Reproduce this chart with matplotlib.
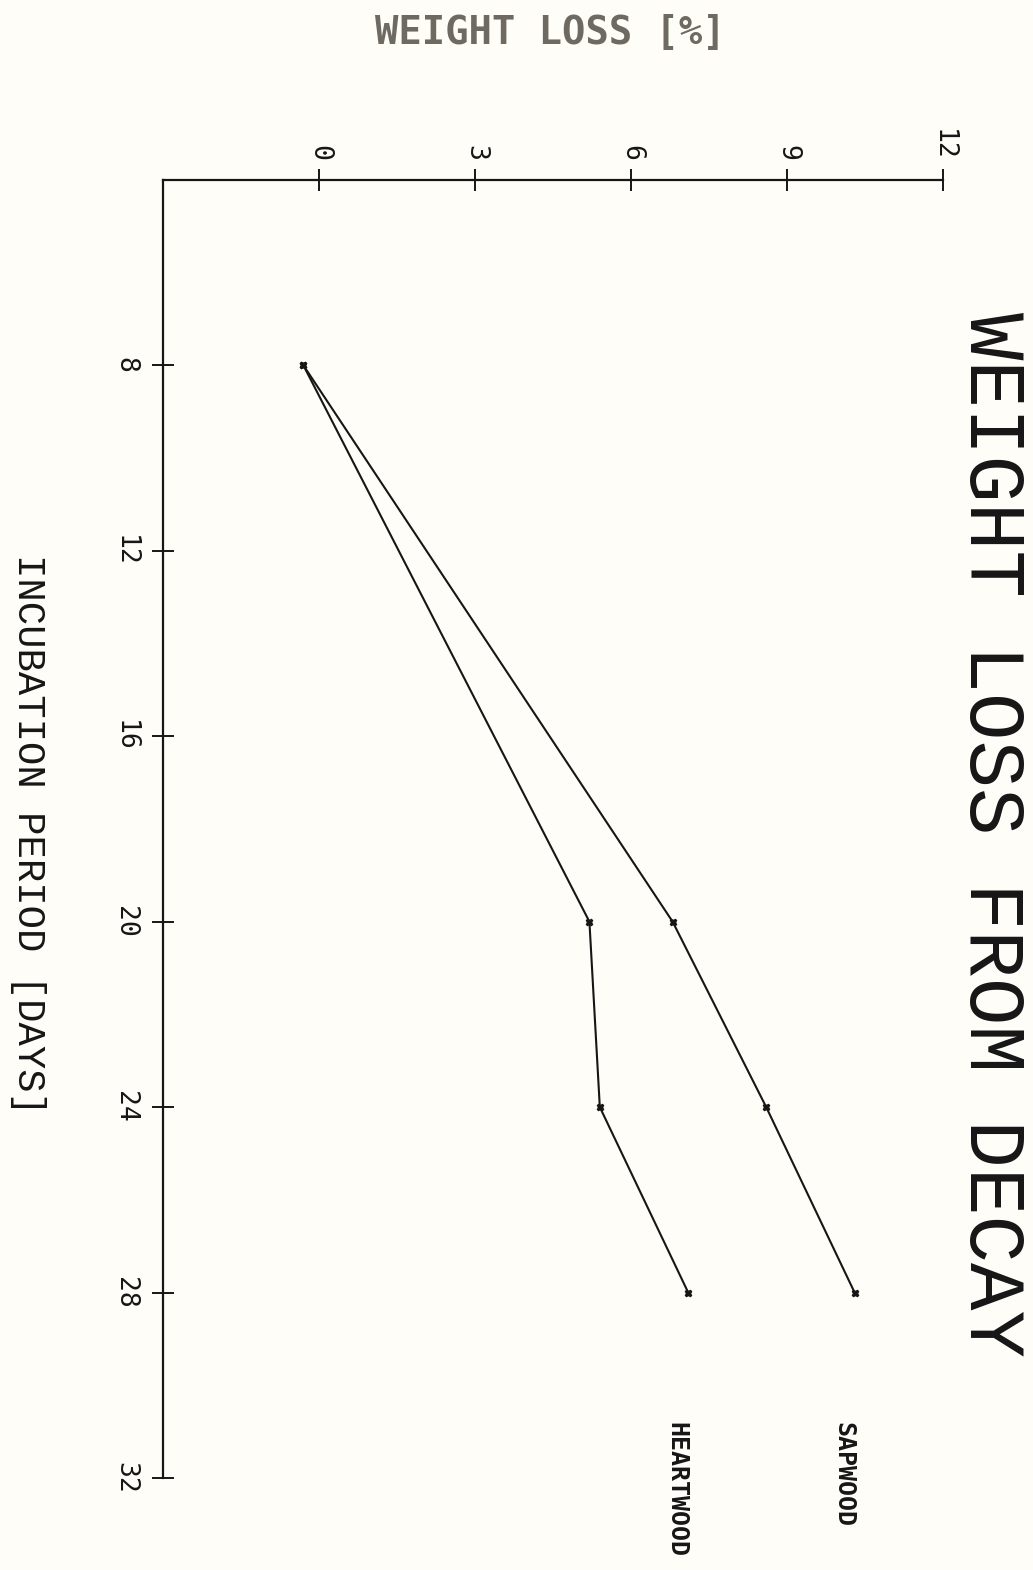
import numpy as np
import matplotlib
matplotlib.use("Agg")
import matplotlib.pyplot as plt

# incubation period [days] and weight loss [%]
days = [8, 20, 24, 28]
sapwood = [-0.3, 6.8, 8.6, 10.3]
heartwood = [-0.3, 5.2, 5.4, 7.1]

loss_ticks = [0, 3, 6, 9, 12]
day_ticks = [8, 12, 16, 20, 24, 28, 32]

FONT = "DejaVu Sans Mono"
THIN = ["Liberation Mono", "DejaVu Sans Mono"]
INK = "#161616"
BG = "#fefdf7"

fig = plt.figure(figsize=(10.33, 15.70), dpi=100, facecolor=BG)
ax = fig.add_axes([0.1578, 0.0586, 0.7551, 0.8268])
ax.set_facecolor(BG)

ax.plot(sapwood, days, color=INK, lw=1.5, marker="X", ms=5, mfc=INK, mec=INK)
ax.plot(heartwood, days, color=INK, lw=1.5, marker="X", ms=5, mfc=INK, mec=INK)

ax.set_xlim(-3, 12)
ax.set_ylim(32, 4)

for s in ["bottom", "right"]:
    ax.spines[s].set_visible(False)
for s in ["top", "left"]:
    ax.spines[s].set_linewidth(1.6)
    ax.spines[s].set_color(INK)

ax.xaxis.tick_top()
ax.set_xticks(loss_ticks)
ax.set_xticklabels([str(v) for v in loss_ticks], rotation=-90, fontsize=19,
                   family=FONT, color=INK)
ax.set_yticks(day_ticks)
ax.set_yticklabels([str(v) for v in day_ticks], rotation=-90, fontsize=19,
                   family=FONT, color=INK, va="center")
ax.tick_params(axis="x", direction="inout", length=16, width=1.4, color=INK, pad=6)
ax.tick_params(axis="y", direction="inout", length=16, width=1.4, color=INK, pad=10)

# series labels at the end of the day axis
ax.text(10.08, 30.8, "SAPWOOD", rotation=-90, ha="center", va="top",
        fontsize=18, fontweight="bold", family=FONT, color=INK)
ax.text(6.88, 30.8, "HEARTWOOD", rotation=-90, ha="center", va="top",
        fontsize=18, fontweight="bold", family=FONT, color=INK)

fig.text(990 / 1033, 1 - 835 / 1570, "WEIGHT LOSS FROM DECAY", rotation=-90,
         ha="center", va="center", fontsize=57, family=THIN, color=INK)
fig.text(28 / 1033, 1 - 835 / 1570, "INCUBATION PERIOD [DAYS]", rotation=-90,
         ha="center", va="center", fontsize=28, family=THIN, color=INK)
fig.text(550 / 1033, 1 - 33 / 1570, "WEIGHT LOSS [%]", ha="center", va="center",
         fontsize=28, fontweight="bold", family=FONT, color="#6e6a62")

fig.savefig("out.png", dpi=100, facecolor=BG)
